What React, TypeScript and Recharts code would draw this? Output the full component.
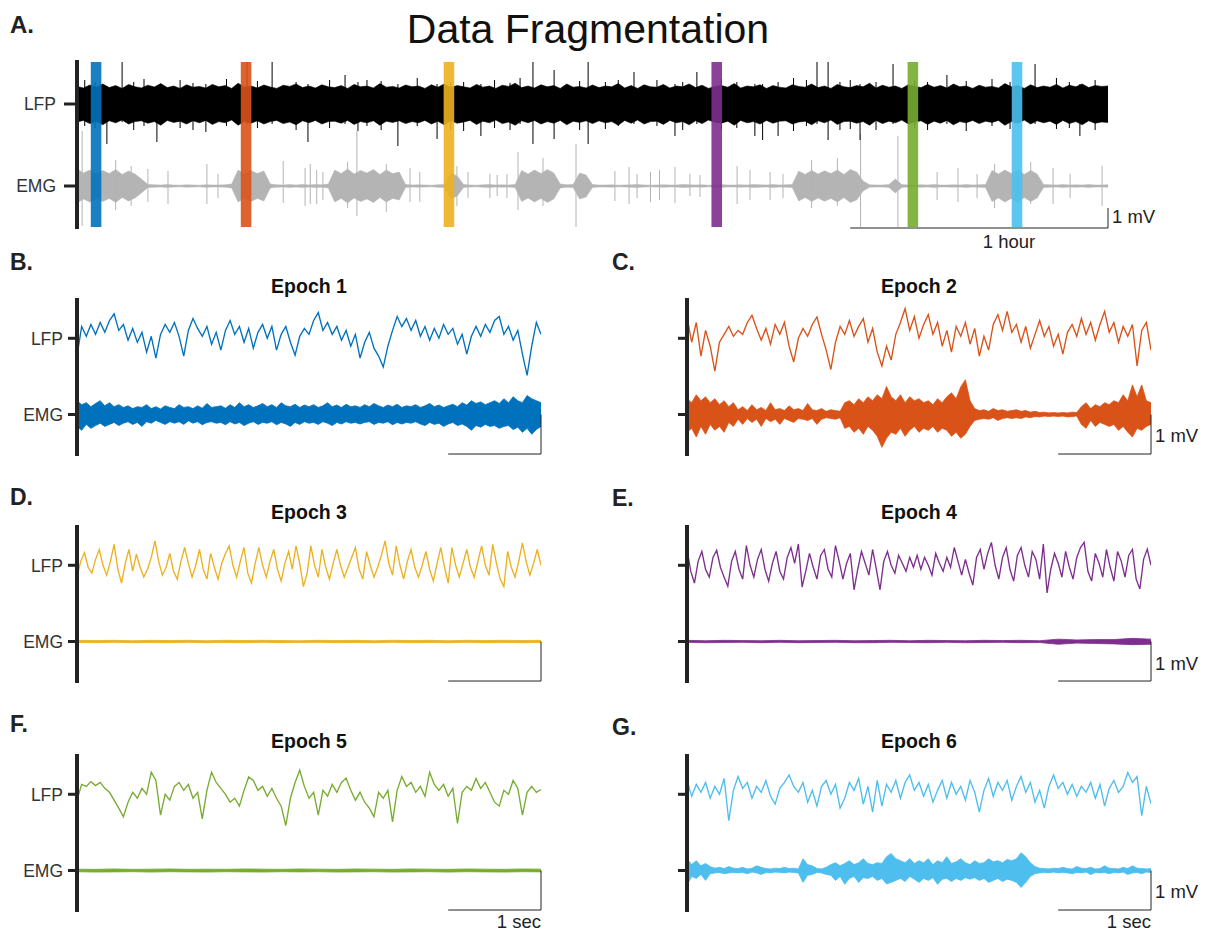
import React from 'react';
import { ComposedChart, Line, Area, XAxis, YAxis, ReferenceLine, ReferenceArea } from 'recharts';

const FONT = '"Liberation Sans", Arial, Helvetica, sans-serif';
const AX = '#222222';
const YW = 70;

// ---------------- Panel A (whole recording, hours) ----------------
const A_HOURS = 4;
const A_LFP_OFFSET = 4.1;
const A_STEP = 0.025;
const aLfpHi = [
  0.88,0.80,0.95,0.84,1.00,0.82,0.92,0.78,0.98,0.86,
  0.80,0.94,0.85,1.02,0.82,0.90,0.78,0.96,0.84,0.88,
  0.80,0.98,0.86,0.92,0.78,1.04,0.84,0.90,0.80,0.95,
  0.85,0.78,0.94,0.88,1.00,0.82,0.90,0.80,0.96,0.86,
  0.82,0.92,0.78,0.98,0.86,0.90,0.80,1.02,0.84,0.88,
  0.80,0.95,0.86,0.90,0.78,0.96,0.84,1.00,0.82,0.92,
  0.86,0.80,0.98,0.84,0.90,0.78,0.94,0.88,1.04,0.82,
  0.90,0.80,0.96,0.86,0.92,0.78,1.00,0.84,0.88,0.80,
  0.95,0.82,0.90,0.86,1.02,0.80,0.92,0.78,0.96,0.86,
  0.84,0.98,0.80,0.90,0.86,1.00,0.82,0.94,0.78,0.88,
  0.92,0.84,1.02,0.80,0.90,0.86,0.96,0.78,0.92,0.84,
  0.80,0.96,0.88,0.84,1.00,0.82,0.90,0.78,0.98,0.86,
  0.82,0.92,0.86,1.04,0.80,0.94,0.84,0.90,0.78,0.96,
  0.88,0.82,0.98,0.84,0.92,0.80,1.00,0.86,0.90,0.78,
  0.94,0.84,0.88,0.80,1.02,0.86,0.92,0.78,0.96,0.82,
  0.90,0.84,0.98,0.80,0.94,0.86,1.00,0.82,0.92,0.88,
  0.90,
];
const aLfpLo = [
  -0.90,-0.82,-0.98,-0.86,-1.04,-0.84,-0.94,-0.80,-1.00,-0.88,
  -0.84,-0.96,-0.88,-1.06,-0.82,-0.92,-0.86,-1.00,-0.84,-0.94,
  -0.82,-1.02,-0.88,-0.94,-0.80,-1.06,-0.86,-0.96,-0.84,-1.00,
  -0.88,-0.82,-0.98,-0.90,-1.04,-0.84,-0.94,-0.82,-1.00,-0.88,
  -0.86,-0.96,-0.82,-1.02,-0.88,-0.94,-0.84,-1.06,-0.86,-0.92,
  -0.84,-0.98,-0.88,-0.94,-0.82,-1.00,-0.86,-1.04,-0.84,-0.96,
  -0.90,-0.82,-1.02,-0.86,-0.94,-0.80,-0.98,-0.90,-1.06,-0.84,
  -0.94,-0.82,-1.00,-0.88,-0.96,-0.82,-1.04,-0.86,-0.92,-0.84,
  -0.98,-0.84,-0.94,-0.88,-1.06,-0.82,-0.96,-0.80,-1.00,-0.88,
  -0.86,-1.02,-0.82,-0.94,-0.88,-1.04,-0.84,-0.98,-0.80,-0.92,
  -0.96,-0.86,-1.06,-0.82,-0.94,-0.88,-1.00,-0.82,-0.96,-0.86,
  -0.84,-1.00,-0.90,-0.86,-1.04,-0.84,-0.94,-0.80,-1.02,-0.88,
  -0.86,-0.96,-0.88,-1.06,-0.82,-0.98,-0.86,-0.94,-0.80,-1.00,
  -0.90,-0.84,-1.02,-0.86,-0.96,-0.82,-1.04,-0.88,-0.94,-0.82,
  -0.98,-0.86,-0.92,-0.82,-1.06,-0.88,-0.96,-0.80,-1.00,-0.84,
  -0.94,-0.86,-1.02,-0.82,-0.98,-0.88,-1.04,-0.84,-0.96,-0.90,
  -0.92,
];
const aEmgAmp = [
  0.85,0.65,0.80,0.60,0.78,0.62,0.82,0.58,0.75,0.60,
  0.35,
  0.08,0.06,0.05,0.07,0.05,0.04,0.06,0.05,0.04,0.06,0.05,0.05,0.06,
  0.10,
  0.80,0.60,0.78,0.62,0.75,
  0.10,
  0.06,0.05,0.07,0.05,0.08,0.05,0.07,0.06,0.10,
  0.80,0.62,0.85,0.60,0.78,0.65,0.82,0.58,0.80,0.62,0.70,
  0.07,0.05,0.06,0.05,0.04,0.06,0.07,
  0.65,0.50,
  0.07,0.05,0.04,0.06,0.07,0.05,0.06,0.05,0.08,
  0.78,0.60,0.80,0.62,0.82,0.65,
  0.10,0.06,0.08,
  0.65,0.55,
  0.07,0.05,0.05,0.06,0.04,0.05,0.06,0.07,0.05,0.04,0.05,0.06,0.05,0.05,0.08,0.06,
  0.05,0.06,0.04,0.05,0.07,0.05,0.05,0.06,0.05,0.08,0.06,0.05,0.07,0.05,0.06,0.08,
  0.75,0.58,0.78,0.60,0.76,0.62,0.80,0.58,0.82,0.70,
  0.25,
  0.06,0.05,0.05,0.07,
  0.35,
  0.07,0.05,0.05,0.06,0.05,0.07,0.05,0.05,0.06,0.05,0.07,0.05,0.06,0.08,
  0.78,0.60,0.80,0.62,0.82,0.58,0.78,0.60,
  0.08,0.06,0.05,0.07,0.05,0.06,0.05,0.07,0.05,0.05,0.06,
];
// [hour, top mV, bottom mV] relative to the trace baseline
const aLfpSpikes = [
  [0.116,0.9,-2.0],[0.175,2.1,-0.9],[0.31,0.9,-1.9],[0.66,2.1,-1.0],[0.757,2.1,-1.0],
  [0.896,1.0,-1.9],[1.04,1.45,-1.0],[1.125,1.2,-1.1],[1.245,1.0,-2.1],[1.397,1.0,-1.75],
  [1.567,1.0,-1.6],[1.719,1.3,-1.0],[1.769,2.1,-2.0],[1.851,1.7,-1.75],[1.983,2.1,-2.0],
  [2.161,1.6,-1.0],[2.32,1.0,-1.6],[2.405,1.6,-1.0],[2.63,1.0,-1.6],[2.66,1.0,-1.8],
  [2.72,1.1,-1.6],[2.871,2.1,-1.0],[2.914,2.1,-1.8],[3.038,1.0,-1.8],[3.166,2.0,-1.0],
  [3.375,1.45,-1.0],[3.717,2.0,-1.0],[3.891,1.0,-1.6],
  [0.03,1.2,-1.1],[0.07,1.1,-1.2],[0.22,1.1,-1.3],[0.26,1.25,-1.1],[0.4,1.2,-1.2],
  [0.45,1.05,-1.3],[0.5,1.0,-1.4],[0.58,1.25,-1.1],[0.7,1.15,-1.2],[0.85,1.1,-1.3],
  [0.98,1.2,-1.2],[1.09,1.1,-1.35],[1.18,1.15,-1.3],[1.32,1.3,-1.1],[1.45,1.1,-1.3],
  [1.5,1.1,-1.35],[1.62,1.2,-1.2],[1.68,1.05,-1.3],[1.95,1.15,-1.3],[2.05,1.1,-1.25],
  [2.1,1.2,-1.1],[2.25,1.2,-1.1],[2.35,1.1,-1.3],[2.5,1.25,-1.3],[2.56,1.1,-1.2],
  [2.78,1.3,-1.35],[2.83,1.2,-1.1],[2.96,1.1,-1.3],[3.0,1.2,-1.25],[3.1,1.1,-1.3],
  [3.25,1.2,-1.2],[3.3,1.1,-1.3],[3.45,1.15,-1.35],[3.55,1.25,-1.1],[3.62,1.1,-1.25],
  [3.8,1.3,-1.25],[3.85,1.1,-1.2],[3.95,1.2,-1.3],
];
const aEmgSpikes = [
  [0.02,2.75,-2.0],[0.15,1.3,-1.2],[0.21,1.0,-1.0],[0.275,0.85,-0.8],[0.353,0.75,-0.9],
  [0.504,1.1,-0.9],[0.547,0.6,-0.6],[0.8,1.25,-0.85],[0.885,0.9,-1.0],[0.905,1.1,-0.9],
  [0.93,0.8,-0.9],[0.954,0.7,-0.7],[1.05,1.2,-1.1],[1.086,2.75,-1.5],[1.2,1.1,-1.3],
  [1.292,0.9,-0.8],[1.33,0.7,-0.8],[1.474,1.0,-1.0],[1.517,0.7,-0.6],[1.602,0.6,-0.6],
  [1.63,0.55,-0.5],[1.668,0.6,-0.6],[1.711,1.7,-1.2],[1.808,1.4,-1.0],[1.936,2.1,-2.05],
  [2.087,0.75,-0.75],[2.142,0.95,-0.9],[2.173,0.6,-0.6],[2.225,0.7,-0.8],[2.26,0.8,-0.7],
  [2.32,0.95,-0.85],[2.378,0.6,-0.5],[2.417,0.55,-0.55],[2.561,1.0,-0.9],[2.611,0.8,-0.7],
  [2.689,0.7,-0.7],[2.739,0.6,-0.6],[2.85,1.3,-1.1],[2.95,1.4,-1.0],[3.04,2.6,-2.05],
  [3.185,2.5,-2.05],[3.337,0.7,-0.7],[3.418,0.9,-0.8],[3.492,0.6,-0.6],[3.56,1.1,-1.1],
  [3.7,1.2,-0.9],[3.787,0.9,-0.9],[3.853,0.6,-0.6],[3.977,1.0,-1.0],
];
const epochCenters = [0.074, 0.656, 1.443, 2.482, 3.243, 3.647];
const epochHalfWidth = 0.0205;
const epochColors = ['#0072BD', '#D95319', '#EDB120', '#7E2F8E', '#77AC30', '#4DBEEE'];
const epochTitles = ['Epoch 1', 'Epoch 2', 'Epoch 3', 'Epoch 4', 'Epoch 5', 'Epoch 6'];
const panelLetters = ['B.', 'C.', 'D.', 'E.', 'F.', 'G.'];

// ---------------- Epoch panels (seconds, mV) ----------------
const LFP_OFFSET = 1.93;
const ep1Lfp = [
  -0.45,0.30,0.05,0.35,0.10,0.40,0.15,0.45,0.62,0.20,
  0.35,-0.05,0.25,-0.10,0.15,-0.35,0.05,-0.50,0.10,0.35,
  0.15,0.40,0.05,-0.45,0.20,0.50,0.25,0.05,0.30,-0.15,
  0.15,-0.30,0.20,0.45,0.10,0.30,-0.10,0.25,-0.25,0.15,
  0.35,0.00,0.30,-0.30,0.10,0.30,-0.10,-0.43,0.05,0.25,
  0.10,0.45,0.65,0.20,0.40,0.10,0.30,-0.05,0.20,-0.20,
  0.10,-0.50,-0.10,0.15,-0.25,-0.45,-0.73,-0.20,0.20,0.55,
  0.30,0.50,0.20,0.45,0.05,0.30,-0.05,0.25,0.00,0.35,
  0.10,0.25,-0.15,0.10,-0.40,0.05,0.30,0.05,0.35,0.15,
  0.45,0.55,0.10,0.30,-0.05,0.20,-0.40,-0.94,-0.20,0.40,
  0.10,
];
const ep1EmgHi = [
  0.35,0.25,0.30,0.20,0.28,0.35,0.22,0.30,0.20,0.25,0.18,
  0.22,0.15,0.20,0.18,0.25,0.15,0.20,0.14,0.22,0.18,
  0.15,0.25,0.18,0.20,0.15,0.22,0.16,0.28,0.18,0.20,
  0.22,0.16,0.25,0.18,0.30,0.20,0.25,0.18,0.22,0.28,
  0.20,0.25,0.18,0.30,0.22,0.20,0.26,0.18,0.24,0.20,
  0.25,0.18,0.22,0.30,0.20,0.24,0.18,0.26,0.20,0.22,
  0.18,0.25,0.20,0.28,0.22,0.18,0.24,0.20,0.26,0.18,
  0.22,0.20,0.25,0.18,0.22,0.28,0.20,0.24,0.18,0.22,
  0.26,0.20,0.30,0.24,0.35,0.28,0.32,0.25,0.30,0.35,
  0.28,0.40,0.30,0.45,0.35,0.30,0.48,0.40,0.35,0.30,
];
const ep1EmgLo = [
  -0.30,-0.40,-0.25,-0.35,-0.28,-0.22,-0.30,-0.25,-0.20,-0.28,-0.22,
  -0.18,-0.25,-0.20,-0.30,-0.18,-0.22,-0.15,-0.20,-0.25,-0.18,
  -0.22,-0.18,-0.25,-0.16,-0.22,-0.18,-0.26,-0.20,-0.18,-0.22,
  -0.20,-0.26,-0.18,-0.24,-0.20,-0.28,-0.22,-0.18,-0.25,-0.20,
  -0.22,-0.18,-0.26,-0.20,-0.24,-0.30,-0.20,-0.25,-0.18,-0.22,
  -0.20,-0.25,-0.18,-0.22,-0.28,-0.20,-0.24,-0.18,-0.22,-0.20,
  -0.24,-0.20,-0.18,-0.25,-0.20,-0.22,-0.18,-0.26,-0.20,-0.24,
  -0.20,-0.22,-0.18,-0.24,-0.28,-0.20,-0.25,-0.22,-0.30,-0.24,
  -0.20,-0.28,-0.24,-0.30,-0.40,-0.28,-0.32,-0.25,-0.30,-0.28,
  -0.35,-0.30,-0.28,-0.38,-0.32,-0.45,-0.35,-0.50,-0.38,-0.30,
];
const ep2Lfp = [
  0.55,-0.10,0.40,-0.45,0.20,-0.20,-0.83,-0.10,0.10,0.30,
  0.05,0.20,0.10,0.40,0.58,0.25,-0.05,0.25,-0.15,0.35,
  0.10,0.40,-0.20,-0.60,0.00,0.25,0.05,0.35,0.54,0.10,
  -0.30,-0.79,-0.10,0.30,0.10,0.45,0.05,0.30,0.50,-0.10,
  0.25,-0.35,-0.70,-0.20,-0.55,0.10,0.40,0.75,0.20,0.55,
  0.00,0.35,0.60,0.10,0.40,-0.20,0.20,-0.35,0.30,0.05,
  0.40,-0.15,0.25,-0.45,0.05,-0.30,0.35,0.60,0.20,0.68,
  0.15,0.35,-0.10,0.30,-0.25,0.10,0.45,0.05,0.30,-0.20,
  0.10,-0.40,0.15,0.35,0.05,0.50,0.10,0.40,-0.05,0.35,
  0.68,0.15,0.40,-0.10,0.30,0.05,0.35,-0.70,0.20,0.40,
  -0.30,
];
const ep2EmgHi = [
  0.40,0.30,0.50,0.35,0.45,0.30,0.40,0.25,0.35,0.20,0.30,
  0.12,0.20,0.10,0.25,0.12,0.18,0.10,0.30,0.12,0.15,
  0.10,0.22,0.12,0.15,0.10,0.28,0.12,0.10,0.15,0.08,
  0.12,0.10,0.08,0.30,0.35,0.25,0.40,0.30,0.45,0.35,
  0.50,0.40,0.71,0.45,0.35,0.50,0.30,0.45,0.35,0.40,
  0.30,0.35,0.25,0.40,0.30,0.45,0.55,0.40,0.70,0.88,
  0.35,0.15,0.10,0.12,0.08,0.15,0.10,0.12,0.08,0.10,
  0.12,0.08,0.10,0.06,0.08,0.05,0.06,0.04,0.05,0.04,
  0.05,0.04,0.06,0.05,0.20,0.30,0.15,0.25,0.20,0.30,
  0.25,0.35,0.30,0.50,0.35,0.75,0.45,0.75,0.35,0.30,
];
const ep2EmgLo = [
  -0.45,-0.35,-0.57,-0.30,-0.50,-0.25,-0.40,-0.30,-0.45,-0.20,-0.30,
  -0.12,-0.25,-0.10,-0.20,-0.12,-0.30,-0.10,-0.18,-0.12,-0.25,
  -0.10,-0.15,-0.20,-0.10,-0.12,-0.15,-0.10,-0.25,-0.12,-0.08,
  -0.10,-0.12,-0.08,-0.35,-0.30,-0.45,-0.35,-0.50,-0.30,-0.40,
  -0.55,-0.83,-0.60,-0.45,-0.50,-0.35,-0.55,-0.40,-0.30,-0.45,
  -0.35,-0.40,-0.30,-0.45,-0.35,-0.40,-0.55,-0.45,-0.60,-0.50,
  -0.30,-0.15,-0.12,-0.10,-0.12,-0.08,-0.15,-0.10,-0.08,-0.10,
  -0.08,-0.10,-0.06,-0.08,-0.05,-0.06,-0.04,-0.05,-0.04,-0.05,
  -0.04,-0.06,-0.05,-0.04,-0.25,-0.35,-0.15,-0.30,-0.20,-0.25,
  -0.30,-0.25,-0.40,-0.30,-0.45,-0.57,-0.35,-0.40,-0.30,-0.25,
];
const ep3Lfp = [
  -0.30,0.10,0.32,-0.05,-0.20,0.15,0.40,0.00,-0.25,0.10,
  0.53,-0.10,-0.45,0.05,0.40,-0.15,0.28,-0.05,-0.30,-0.10,
  0.20,0.62,0.10,-0.25,-0.05,0.30,-0.15,-0.35,0.10,0.45,
  0.05,-0.30,0.00,0.40,-0.10,-0.35,0.30,-0.05,-0.35,0.05,
  0.30,0.49,0.00,-0.30,0.10,0.45,-0.20,-0.45,0.05,0.45,
  0.00,-0.30,0.10,0.40,-0.10,-0.40,0.05,0.35,-0.10,0.49,
  0.05,-0.54,-0.20,0.49,0.00,-0.30,0.40,-0.05,-0.35,0.05,
  0.40,0.00,-0.30,-0.05,0.20,0.45,-0.10,-0.35,0.35,0.00,
  -0.30,-0.05,0.25,0.62,0.05,-0.25,0.49,0.00,-0.35,0.10,
  0.40,-0.05,-0.30,0.00,0.35,-0.10,-0.40,0.05,0.45,-0.05,
  -0.45,0.45,0.00,-0.30,0.05,0.40,-0.05,-0.30,0.10,0.49,
  0.00,-0.25,0.53,0.05,-0.35,-0.54,0.35,-0.05,-0.30,0.10,
  0.57,0.10,-0.25,0.05,0.40,0.00,
];
const ep3EmgHi = [0.03,0.025,0.03,0.02,0.03,0.025,0.03,0.02,0.03,0.025,0.03,0.025,0.02,0.03,0.025,0.03,0.02,0.03,0.025,0.03,0.02,0.03,0.025,0.03,0.025,0.03];
const ep3EmgLo = [-0.025,-0.03,-0.02,-0.03,-0.025,-0.03,-0.02,-0.03,-0.025,-0.03,-0.02,-0.03,-0.025,-0.02,-0.03,-0.025,-0.03,-0.02,-0.03,-0.025,-0.03,-0.02,-0.03,-0.025,-0.03,-0.025];
const ep4Lfp = [
  0.41,-0.15,-0.45,0.10,0.35,-0.10,-0.30,0.20,0.38,-0.05,
  -0.30,-0.53,0.10,0.35,-0.10,-0.35,0.50,0.00,-0.30,0.15,
  0.40,-0.10,-0.40,0.05,0.35,-0.15,-0.35,0.20,0.45,0.05,
  0.54,-0.55,-0.15,0.30,-0.05,-0.35,0.25,0.40,-0.10,-0.30,
  0.50,0.10,-0.35,0.05,0.30,-0.62,-0.10,0.35,0.05,-0.25,
  0.40,-0.10,-0.62,0.10,0.35,0.00,-0.20,0.25,0.05,-0.15,
  0.20,-0.05,0.25,-0.10,0.20,0.00,-0.25,0.30,0.05,-0.15,
  0.20,-0.05,0.45,0.10,-0.25,0.15,-0.20,-0.50,0.20,0.40,
  -0.10,0.30,0.58,0.00,-0.35,0.20,0.45,-0.10,-0.40,0.25,
  0.45,0.00,-0.30,0.35,0.15,-0.35,0.54,-0.70,-0.10,0.30,
  0.05,-0.30,0.35,-0.05,-0.35,0.20,0.45,0.58,-0.15,-0.40,
  0.30,0.05,-0.30,0.40,-0.05,-0.40,0.35,0.10,-0.30,0.25,
  0.40,-0.35,-0.60,0.15,0.41,0.00,
];
const ep4EmgHi = [0.03,0.02,0.03,0.025,0.02,0.03,0.02,0.025,0.03,0.02,0.025,0.03,0.02,0.03,0.025,0.02,0.03,0.025,0.03,0.02,0.06,0.04,0.05,0.05,0.08,0.06];
const ep4EmgLo = [-0.02,-0.03,-0.025,-0.02,-0.03,-0.02,-0.03,-0.025,-0.02,-0.03,-0.03,-0.02,-0.025,-0.03,-0.02,-0.03,-0.025,-0.02,-0.03,-0.025,-0.07,-0.04,-0.05,-0.06,-0.08,-0.07];
const ep5Lfp = [
  -0.15,0.25,0.20,0.32,0.22,0.30,0.15,0.05,-0.15,-0.35,
  -0.57,-0.20,0.05,-0.10,0.15,0.00,0.56,0.35,-0.53,0.00,
  -0.15,0.20,0.30,0.10,0.25,-0.10,0.05,-0.62,0.10,0.56,
  0.30,0.15,0.00,-0.20,-0.10,-0.30,0.10,0.44,0.35,0.10,
  0.20,-0.05,0.15,-0.10,-0.30,-0.79,-0.10,0.30,0.61,0.20,
  -0.10,0.05,-0.53,0.10,-0.05,0.25,0.05,0.30,0.41,0.10,
  -0.15,0.05,-0.20,-0.35,-0.57,0.05,-0.10,0.10,-0.70,0.10,
  0.45,0.20,0.30,0.05,0.20,-0.05,0.56,0.25,0.10,0.25,
  -0.05,0.15,-0.74,0.05,0.20,0.10,0.40,0.15,0.30,0.05,
  -0.20,-0.30,0.10,0.00,0.35,0.15,-0.53,0.05,0.20,0.05,
  0.12,
];
const ep5EmgHi = [0.035,0.03,0.04,0.03,0.035,0.04,0.03,0.035,0.03,0.04,0.035,0.03,0.04,0.035,0.03,0.04,0.035,0.03,0.04,0.035,0.03,0.04,0.035,0.03,0.04,0.035];
const ep5EmgLo = [-0.03,-0.04,-0.035,-0.03,-0.04,-0.03,-0.035,-0.04,-0.03,-0.035,-0.04,-0.03,-0.035,-0.03,-0.04,-0.035,-0.03,-0.04,-0.035,-0.03,-0.04,-0.03,-0.035,-0.04,-0.03,-0.035];
const ep6Lfp = [
  0.36,-0.05,0.25,0.05,0.30,-0.10,0.20,0.00,0.40,-0.67,
  0.10,0.45,0.15,0.30,-0.10,0.20,0.05,0.35,-0.05,-0.25,
  0.15,0.30,0.49,0.20,0.05,0.30,-0.20,0.10,-0.30,0.20,
  0.35,0.00,0.25,-0.35,-0.10,0.30,0.10,0.40,-0.25,0.20,
  -0.45,0.35,-0.30,0.25,0.05,0.35,-0.10,0.30,0.49,0.10,
  0.30,-0.05,0.25,-0.20,0.10,0.35,-0.10,0.30,0.00,0.20,
  -0.15,0.35,0.05,-0.45,0.10,0.40,-0.05,0.30,0.10,0.35,
  -0.15,0.20,0.45,0.05,0.30,-0.20,0.10,-0.35,0.20,0.49,
  0.15,0.30,0.00,0.25,-0.05,0.20,0.05,0.30,-0.10,0.25,
  -0.30,0.15,0.35,0.05,0.20,0.55,0.30,0.45,-0.54,0.20,
  -0.24,
];
const ep6EmgHi = [
  0.30,0.15,0.25,0.12,0.18,0.10,0.06,0.08,0.05,0.10,0.06,
  0.05,0.08,0.04,0.06,0.12,0.08,0.05,0.04,0.06,0.05,
  0.08,0.05,0.06,0.04,0.30,0.15,0.12,0.05,0.04,0.08,
  0.15,0.20,0.12,0.18,0.25,0.15,0.20,0.30,0.18,0.15,
  0.20,0.18,0.35,0.43,0.30,0.25,0.20,0.30,0.18,0.25,
  0.20,0.30,0.15,0.25,0.20,0.35,0.18,0.22,0.30,0.20,
  0.15,0.25,0.18,0.20,0.30,0.22,0.25,0.20,0.28,0.25,
  0.30,0.45,0.35,0.20,0.10,0.06,0.05,0.04,0.06,0.05,
  0.08,0.05,0.04,0.10,0.06,0.05,0.08,0.04,0.05,0.12,
  0.06,0.05,0.04,0.08,0.05,0.12,0.06,0.05,0.04,0.05,
];
const ep6EmgLo = [
  -0.38,-0.15,-0.20,-0.10,-0.25,-0.08,-0.06,-0.05,-0.08,-0.06,-0.05,
  -0.06,-0.05,-0.08,-0.04,-0.06,-0.10,-0.05,-0.06,-0.04,-0.05,
  -0.06,-0.04,-0.05,-0.06,-0.30,-0.12,-0.10,-0.05,-0.06,-0.10,
  -0.12,-0.25,-0.15,-0.35,-0.20,-0.15,-0.30,-0.18,-0.20,-0.15,
  -0.25,-0.20,-0.34,-0.30,-0.25,-0.20,-0.28,-0.15,-0.22,-0.30,
  -0.20,-0.25,-0.18,-0.35,-0.22,-0.20,-0.28,-0.20,-0.25,-0.18,
  -0.22,-0.18,-0.25,-0.20,-0.30,-0.25,-0.20,-0.28,-0.22,-0.25,
  -0.30,-0.43,-0.30,-0.15,-0.08,-0.06,-0.05,-0.06,-0.04,-0.06,
  -0.05,-0.06,-0.08,-0.05,-0.06,-0.04,-0.10,-0.05,-0.06,-0.05,
  -0.08,-0.05,-0.06,-0.04,-0.10,-0.06,-0.05,-0.08,-0.04,-0.05,
];

type Part = { step: number; n: number; fill: (r: any, i: number) => void };
function mergeRows(parts: Part[]) {
  const m = new Map<number, any>();
  for (const p of parts) {
    for (let i = 0; i < p.n; i++) {
      const t = Math.round(i * p.step * 10000) / 10000;
      const k = Math.round(t * 10000);
      let r = m.get(k);
      if (!r) { r = { t }; m.set(k, r); }
      p.fill(r, i);
    }
  }
  return Array.from(m.values()).sort((a, b) => a.t - b.t);
}

const epochs = [
  { lfp: ep1Lfp, lfpStep: 0.05, hi: ep1EmgHi, lo: ep1EmgLo, emgStep: 0.05 },
  { lfp: ep2Lfp, lfpStep: 0.05, hi: ep2EmgHi, lo: ep2EmgLo, emgStep: 0.05 },
  { lfp: ep3Lfp, lfpStep: 0.04, hi: ep3EmgHi, lo: ep3EmgLo, emgStep: 0.2 },
  { lfp: ep4Lfp, lfpStep: 0.04, hi: ep4EmgHi, lo: ep4EmgLo, emgStep: 0.2 },
  { lfp: ep5Lfp, lfpStep: 0.05, hi: ep5EmgHi, lo: ep5EmgLo, emgStep: 0.2 },
  { lfp: ep6Lfp, lfpStep: 0.05, hi: ep6EmgHi, lo: ep6EmgLo, emgStep: 0.05 },
];

// layout (pixels)
const EP_W = 464;
const EP_H = 158;
const colX = [77, 687];
const rowY = [298, 525, 754];
const A_X = 77, A_Y = 60, A_W = 1031, A_H = 169;

function EpochChart({ idx }: { idx: number }) {
  const ep = epochs[idx];
  const color = epochColors[idx];
  const left = colX[idx % 2];
  const top = rowY[Math.floor(idx / 2)];
  const labels = idx % 2 === 0;
  const rows = mergeRows([
    { step: ep.lfpStep, n: ep.lfp.length, fill: (r, i) => { r.lfp = ep.lfp[i] + LFP_OFFSET; } },
    { step: ep.emgStep, n: ep.hi.length, fill: (r, i) => { r.emg = [ep.lo[i], ep.hi[i]]; } },
  ]);
  return (
    <div style={{ position: 'absolute', left: left - YW, top: top - 2 }}>
      <ComposedChart width={YW + EP_W + 6} height={EP_H + 4} data={rows} margin={{ top: 2, right: 6, bottom: 2, left: 0 }}>
        <XAxis type="number" dataKey="t" domain={[0, 5]} hide allowDataOverflow />
        <YAxis
          type="number" domain={[-1.05, 2.95]} ticks={[0, LFP_OFFSET]} width={YW} interval={0} allowDataOverflow
          axisLine={{ stroke: AX, strokeWidth: 4 }} tickLine={{ stroke: AX, strokeWidth: 3 }}
          tickSize={9} tickMargin={5} tick={{ fill: '#333', fontSize: 17.5 }}
          tickFormatter={(v: number) => (labels ? (v === 0 ? 'EMG' : 'LFP') : '')}
        />
        <Area type="linear" dataKey="emg" stroke={color} strokeWidth={0.8} fill={color} fillOpacity={1}
          connectNulls dot={false} activeDot={false} isAnimationActive={false} />
        <Line type="linear" dataKey="lfp" stroke={color} strokeWidth={1.35} dot={false} activeDot={false}
          connectNulls isAnimationActive={false} />
        <ReferenceLine segment={[{ x: 5, y: 0 }, { x: 5, y: -1 }]} stroke={AX} strokeWidth={1} ifOverflow="visible" />
        <ReferenceLine segment={[{ x: 4, y: -1 }, { x: 5, y: -1 }]} stroke={AX} strokeWidth={1} ifOverflow="visible" />
      </ComposedChart>
    </div>
  );
}

function PanelA() {
  const rows = mergeRows([
    { step: A_STEP, n: aLfpHi.length, fill: (r, i) => { r.lfp = [A_LFP_OFFSET + aLfpLo[i], A_LFP_OFFSET + aLfpHi[i]]; } },
    { step: A_STEP, n: aEmgAmp.length, fill: (r, i) => { r.emg = [-aEmgAmp[i], aEmgAmp[i]]; } },
  ]);
  const bandRows = epochCenters.map((c) => ({ t: c }));
  return (
    <>
      <div style={{ position: 'absolute', left: A_X - YW, top: A_Y - 2 }}>
        <ComposedChart width={YW + A_W + 6} height={A_H + 4} data={rows} margin={{ top: 2, right: 6, bottom: 2, left: 0 }}>
          <XAxis type="number" dataKey="t" domain={[0, A_HOURS]} hide allowDataOverflow />
          <YAxis
            type="number" domain={[-2.15, 6.3]} ticks={[0, A_LFP_OFFSET]} width={YW} interval={0} allowDataOverflow
            axisLine={{ stroke: AX, strokeWidth: 4 }} tickLine={{ stroke: AX, strokeWidth: 3 }}
            tickSize={13} tickMargin={8} tick={{ fill: '#333', fontSize: 17.5 }}
            tickFormatter={(v: number) => (v === 0 ? 'EMG' : 'LFP')}
          />
          <Area type="linear" dataKey="emg" stroke="#b4b4b4" strokeWidth={0.5} fill="#b4b4b4" fillOpacity={1}
            connectNulls dot={false} activeDot={false} isAnimationActive={false} />
          {aEmgSpikes.map((s, i) => (
            <ReferenceLine key={'e' + i} segment={[{ x: s[0], y: s[2] }, { x: s[0], y: s[1] }]} stroke="#b4b4b4" strokeWidth={1} ifOverflow="visible" />
          ))}
          <Area type="linear" dataKey="lfp" stroke="#000" strokeWidth={0.6} fill="#000" fillOpacity={1}
            connectNulls dot={false} activeDot={false} isAnimationActive={false} />
          {aLfpSpikes.map((s, i) => (
            <ReferenceLine key={'l' + i} segment={[{ x: s[0], y: A_LFP_OFFSET + s[2] }, { x: s[0], y: A_LFP_OFFSET + s[1] }]} stroke="#000" strokeWidth={1} ifOverflow="visible" />
          ))}
          <ReferenceLine segment={[{ x: 3, y: -2.1 }, { x: 4, y: -2.1 }]} stroke={AX} strokeWidth={1} ifOverflow="visible" />
          <ReferenceLine segment={[{ x: 4, y: -2.1 }, { x: 4, y: -1.1 }]} stroke={AX} strokeWidth={1} ifOverflow="visible" />
        </ComposedChart>
      </div>
      <div style={{ position: 'absolute', left: A_X - YW, top: A_Y - 2, pointerEvents: 'none' }}>
        <ComposedChart width={YW + A_W + 6} height={A_H + 4} data={bandRows} margin={{ top: 2, right: 6, bottom: 2, left: YW }}>
          <XAxis type="number" dataKey="t" domain={[0, A_HOURS]} hide allowDataOverflow />
          <YAxis type="number" domain={[-2.15, 6.3]} hide allowDataOverflow />
          {epochCenters.map((c, i) => (
            <ReferenceArea key={i} x1={c - epochHalfWidth} x2={c + epochHalfWidth} y1={-2.05} y2={6.2}
              fill={epochColors[i]} fillOpacity={0.9} stroke="none" ifOverflow="visible" />
          ))}
        </ComposedChart>
      </div>
    </>
  );
}

export default function App() {
  const letterPos = [[10, 270], [612, 270], [10, 505], [612, 506], [10, 732], [612, 735]];
  const titleBase = [293, 519, 748];
  return (
    <div style={{ position: 'absolute', left: 0, top: 0, width: 1207, height: 931, background: '#fff', fontFamily: FONT, overflow: 'hidden' }}>
      <PanelA />
      {epochs.map((_, i) => <EpochChart key={i} idx={i} />)}
      <svg width={1207} height={931} style={{ position: 'absolute', left: 0, top: 0, pointerEvents: 'none' }} fontFamily={FONT}>
        <text x={588} y={43} textAnchor="middle" fontSize={41} fill="#111">Data Fragmentation</text>
        <text x={10} y={33} fontSize={24} fontWeight="bold" fill="#222">A.</text>
        {panelLetters.map((l, i) => (
          <text key={l} x={letterPos[i][0]} y={letterPos[i][1]} fontSize={23} fontWeight="bold" fill="#222">{l}</text>
        ))}
        {epochTitles.map((t, i) => (
          <text key={t} x={colX[i % 2] + EP_W / 2} y={titleBase[Math.floor(i / 2)]} textAnchor="middle" fontSize={19.5} fontWeight="bold" fill="#111">{t}</text>
        ))}
        <text x={1112} y={223} fontSize={18.5} fill="#222">1 mV</text>
        <text x={1009} y={248} textAnchor="middle" fontSize={18.5} fill="#222">1 hour</text>
        <text x={1155} y={442} fontSize={18.5} fill="#222">1 mV</text>
        <text x={1155} y={670} fontSize={18.5} fill="#222">1 mV</text>
        <text x={1155} y={898} fontSize={18.5} fill="#222">1 mV</text>
        <text x={541} y={928} textAnchor="end" fontSize={18.5} fill="#222">1 sec</text>
        <text x={1151} y={928} textAnchor="end" fontSize={18.5} fill="#222">1 sec</text>
      </svg>
    </div>
  );
}
